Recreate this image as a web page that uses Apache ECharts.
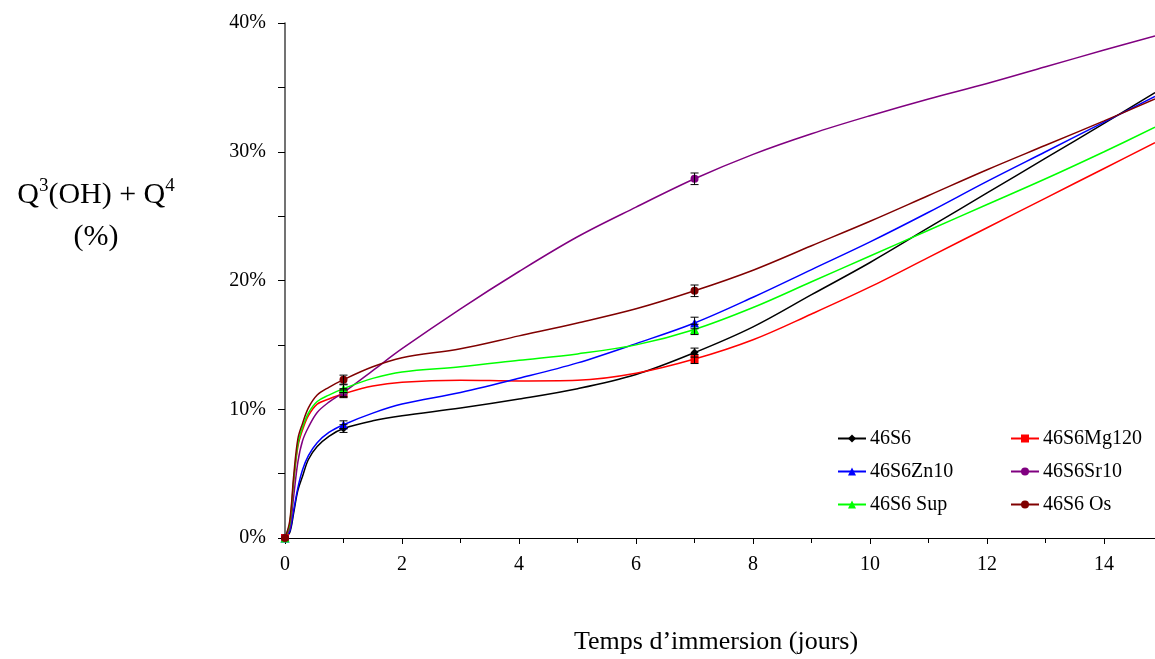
<!DOCTYPE html>
<html>
<head>
<meta charset="utf-8">
<script src="https://cdn.jsdelivr.net/npm/echarts@6/dist/echarts.min.js"></script>
<style>html,body{margin:0;padding:0;background:#fff}#c{width:1155px;height:659px}</style>
</head>
<body>
<div id="c"></div>
<script>
var xs = [0, 0.08, 0.15, 0.22, 0.3, 0.4, 0.55, 0.75, 1, 1.5, 2, 3, 4, 5, 6, 7, 8, 9, 10, 11, 12, 13, 14, 14.87];
// Fitted curves (% Q3(OH)+Q4)
var c46S6    = [0, 0.4, 2.0, 3.7, 4.8, 6.1, 7.1, 7.9, 8.5, 9.1, 9.5, 10.1, 10.8, 11.6, 12.7, 14.4, 16.4, 18.9, 21.4, 24.1, 26.8, 29.5, 32.2, 34.6];
var c46S6Mg  = [0, 1.0, 4.4, 7.1, 8.4, 9.5, 10.4, 10.8, 11.2, 11.8, 12.1, 12.25, 12.2, 12.25, 12.8, 13.9, 15.4, 17.4, 19.5, 21.8, 24.1, 26.4, 28.7, 30.7];
var c46S6Zn  = [0, 0.5, 2.2, 3.9, 5.3, 6.4, 7.4, 8.2, 8.8, 9.7, 10.4, 11.3, 12.4, 13.6, 15.1, 16.7, 18.7, 20.85, 23.0, 25.3, 27.7, 30.0, 32.3, 34.3];
var c46S6Sr  = [0, 0.75, 3.3, 5.9, 7.55, 8.6, 9.75, 10.55, 11.3, 13.0, 14.7, 17.8, 20.7, 23.4, 25.7, 27.9, 29.8, 31.4, 32.8, 34.1, 35.3, 36.6, 37.9, 39.0];
var c46S6Sup = [0, 1.1, 4.6, 7.3, 8.6, 9.7, 10.6, 11.1, 11.6, 12.4, 12.9, 13.3, 13.8, 14.3, 15.0, 16.2, 17.9, 19.9, 21.9, 23.9, 25.9, 27.9, 30.0, 31.9];
var c46S6Os  = [0, 1.3, 4.9, 7.7, 8.9, 10.1, 11.1, 11.7, 12.3, 13.3, 14.0, 14.7, 15.7, 16.7, 17.8, 19.2, 20.8, 22.7, 24.6, 26.6, 28.6, 30.5, 32.4, 34.1];
// Measured points (days) and their values / error bars
var measX = [0, 1, 7];
var m46S6 = [0, 8.5, 14.4],   e46S6 = [0, 0.3, 0.35];
var m46S6Mg = [0, 11.2, 13.9], e46S6Mg = [0, 0.3, 0.35];
var m46S6Zn = [0, 8.8, 16.7],  e46S6Zn = [0, 0.3, 0.45];
var m46S6Sr = [0, 11.3, 27.9], e46S6Sr = [0, 0.3, 0.45];
var m46S6Sup = [0, 11.6, 16.2], e46S6Sup = [0, 0.3, 0.4];
var m46S6Os = [0, 12.3, 19.2], e46S6Os = [0, 0.35, 0.45];
var names = ['46S6', '46S6Mg120', '46S6Zn10', '46S6Sr10', '46S6 Sup', '46S6 Os'];
var xTicks = [0, 2, 4, 6, 8, 10, 12, 14];
var yTicks = [0, 10, 20, 30, 40];

var FONT = 'Liberation Serif';
var specs = [
  {name: names[0], curve: c46S6, meas: m46S6, err: e46S6, color: '#000000', symbol: 'diamond', size: 8},
  {name: names[1], curve: c46S6Mg, meas: m46S6Mg, err: e46S6Mg, color: '#ff0000', symbol: 'rect', size: 8},
  {name: names[2], curve: c46S6Zn, meas: m46S6Zn, err: e46S6Zn, color: '#0000ff', symbol: 'triangle', size: 9},
  {name: names[3], curve: c46S6Sr, meas: m46S6Sr, err: e46S6Sr, color: '#800080', symbol: 'circle', size: 8},
  {name: names[4], curve: c46S6Sup, meas: m46S6Sup, err: e46S6Sup, color: '#00ff00', symbol: 'triangle', size: 9},
  {name: names[5], curve: c46S6Os, meas: m46S6Os, err: e46S6Os, color: '#800000', symbol: 'circle', size: 8}
];

var series = [];
specs.forEach(function (s) {
  var data = xs.map(function (x, i) {
    var item = {value: [x, s.curve[i]]};
    if (measX.indexOf(x) < 0) item.symbol = 'none';
    return item;
  });
  series.push({
    type: 'line', name: s.name, data: data, smooth: 0.35,
    showSymbol: true, showAllSymbol: true, symbol: s.symbol, symbolSize: s.size,
    lineStyle: {color: s.color, width: 1.5}, itemStyle: {color: s.color},
    z: 2
  });
});
specs.forEach(function (s) {
  series.push({
    type: 'custom', name: s.name + ' err', silent: true, z: 5,
    data: measX.map(function (x, i) { return [x, s.meas[i], s.err[i]]; }),
    encode: {x: 0, y: 1},
    renderItem: function (params, api) {
      var e = api.value(2);
      if (!e) return null;
      var x = api.value(0), y = api.value(1);
      var top = api.coord([x, y + e]), bot = api.coord([x, y - e]);
      var w = 4;
      var st = {stroke: '#000', lineWidth: 1};
      return {type: 'group', children: [
        {type: 'line', shape: {x1: top[0], y1: top[1], x2: bot[0], y2: bot[1]}, style: st},
        {type: 'line', shape: {x1: top[0] - w, y1: top[1], x2: top[0] + w, y2: top[1]}, style: st},
        {type: 'line', shape: {x1: bot[0] - w, y1: bot[1], x2: bot[0] + w, y2: bot[1]}, style: st}
      ]};
    }
  });
});

var legendCommon = {
  orient: 'vertical', itemWidth: 28, itemHeight: 10, itemGap: 12,
  textStyle: {fontFamily: FONT, fontSize: 20, color: '#000', lineHeight: 21, padding: [0, 0, 0, -1]},
  selectedMode: false
};

var option = {
  animation: false,
  backgroundColor: '#fff',
  grid: {left: 285, right: 0, top: 23, bottom: 121, containLabel: false},
  xAxis: {
    type: 'value', min: 0, max: 14.87, interval: 2,
    axisLine: {show: true, lineStyle: {color: '#000', width: 1}},
    axisTick: {show: true, length: 6, lineStyle: {color: '#000'}, customValues: xTicks},
    minorTick: {show: true, splitNumber: 2, length: 5, lineStyle: {color: '#000'}},
    axisLabel: {fontFamily: FONT, fontSize: 20, color: '#000', margin: 17, customValues: xTicks},
    splitLine: {show: false}
  },
  yAxis: {
    type: 'value', min: 0, max: 40, interval: 10,
    axisLine: {show: true, lineStyle: {color: '#444', width: 1.5}},
    axisTick: {show: true, length: 7, lineStyle: {color: '#000'}},
    minorTick: {show: true, splitNumber: 2, length: 7, lineStyle: {color: '#000'}},
    axisLabel: {fontFamily: FONT, fontSize: 20, color: '#000', margin: 19, formatter: '{value}%', customValues: yTicks},
    splitLine: {show: false}
  },
  legend: [
    Object.assign({}, legendCommon, {left: 832, top: 423, data: [names[0], names[2], names[4]]}),
    Object.assign({}, legendCommon, {left: 1005, top: 423, data: [names[1], names[3], names[5]]})
  ],
  graphic: [
    {type: 'text', x: 96, y: 195, style: {
      text: '{a|Q}{s|3}{a|(OH) + Q}{s|4}', align: 'center', verticalAlign: 'middle',
      rich: {a: {fontFamily: FONT, fontSize: 30, color: '#000'},
             s: {fontFamily: FONT, fontSize: 19, color: '#000', padding: [0, 0, 18, 0]}}
    }},
    {type: 'text', x: 96, y: 237, style: {
      text: '(%)', align: 'center', verticalAlign: 'middle',
      font: '30px "Liberation Serif"', fill: '#000'
    }},
    {type: 'text', x: 716, y: 642, style: {
      text: 'Temps d\u2019immersion (jours)', align: 'center', verticalAlign: 'middle',
      font: '26px "Liberation Serif"', fill: '#000'
    }}
  ],
  series: series
};
var chart = echarts.init(document.getElementById('c'), null, {renderer: 'canvas'});
chart.setOption(option);
</script>
</body>
</html>
